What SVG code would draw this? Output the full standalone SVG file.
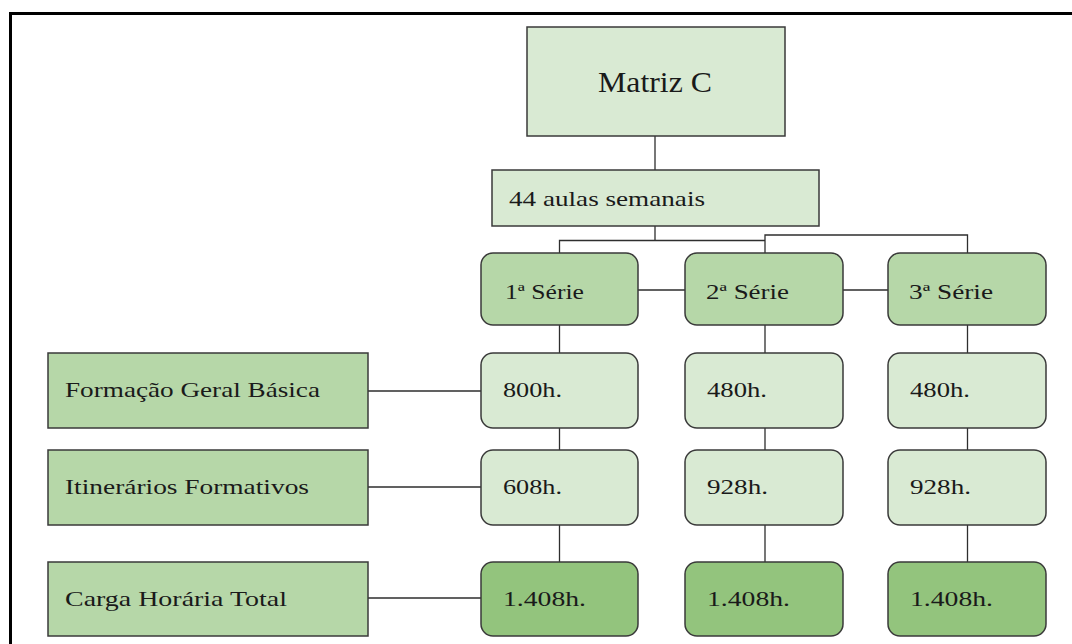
<svg xmlns="http://www.w3.org/2000/svg" width="1072" height="644" viewBox="0 0 1072 644">
  <style>
    .box { stroke: #3a3a3a; stroke-width: 1.5; }
    .pale { fill: #d9ead3; }
    .mid { fill: #b6d7a8; }
    .dark { fill: #93c47d; }
    .lbl { font-family: "Liberation Serif", "Times New Roman", serif; font-size: 21px; fill: #1a1a1a; }
    .big { font-size: 29px; }
    .wire { stroke: #2e2e2e; stroke-width: 1.3; fill: none; }
  </style>

  <rect x="0" y="0" width="1072" height="644" fill="#ffffff"/>
  <!-- frame -->
  <path d="M10.5 644 V13.5 H1072" fill="none" stroke="#000" stroke-width="3"/>

  <g id="connectors">
    <path class="wire" d="M655 136 V170"/>
    <path class="wire" d="M655 226 V240.5 M559.5 253 V240.5 H765"/>
    <path class="wire" d="M765 253 V235 H967.5 V253"/>
    <path class="wire" d="M638 290 H685 M843 290 H888"/>
    <path class="wire" d="M559.5 325 V353 M765 325 V353 M967.5 325 V353"/>
    <path class="wire" d="M559.5 426 V450 M765 420 V450 M967.5 424 V450"/>
    <path class="wire" d="M559.5 525 V562 M765 525 V562 M967.5 525 V562"/>
    <path class="wire" d="M368 391 H481 M368 487 H481 M368 598 H481"/>
  </g>

  <g id="matriz">
    <rect class="box pale" x="527" y="27" width="258" height="109"/>
    <text class="lbl big" x="598" y="92" textLength="114" lengthAdjust="spacingAndGlyphs">Matriz C</text>
  </g>
  <g id="aulas">
    <rect class="box pale" x="492" y="170" width="327" height="56"/>
    <text class="lbl" x="509" y="206" textLength="196" lengthAdjust="spacingAndGlyphs">44 aulas semanais</text>
  </g>

  <g id="serie1">
    <rect class="box mid" x="481" y="253" width="157" height="72" rx="12"/>
    <text class="lbl" x="505" y="299" textLength="79" lengthAdjust="spacingAndGlyphs">1ª Série</text>
  </g>
  <g id="serie2">
    <rect class="box mid" x="685" y="253" width="158" height="72" rx="12"/>
    <text class="lbl" x="706" y="299" textLength="83" lengthAdjust="spacingAndGlyphs">2ª Série</text>
  </g>
  <g id="serie3">
    <rect class="box mid" x="888" y="253" width="158" height="72" rx="12"/>
    <text class="lbl" x="909" y="299" textLength="84" lengthAdjust="spacingAndGlyphs">3ª Série</text>
  </g>

  <g id="fgb">
    <rect class="box mid" x="48" y="353" width="320" height="75"/>
    <text class="lbl" x="65" y="397" textLength="255" lengthAdjust="spacingAndGlyphs">Formação Geral Básica</text>
  </g>
  <g id="itf">
    <rect class="box mid" x="48" y="450" width="320" height="75"/>
    <text class="lbl" x="65" y="494" textLength="244" lengthAdjust="spacingAndGlyphs">Itinerários Formativos</text>
  </g>
  <g id="cht">
    <rect class="box mid" x="48" y="562" width="320" height="74"/>
    <text class="lbl" x="65" y="606" textLength="222" lengthAdjust="spacingAndGlyphs">Carga Horária Total</text>
  </g>

  <g id="fgb1">
    <rect class="box pale" x="481" y="353" width="157" height="75" rx="12"/>
    <text class="lbl" x="503" y="397" textLength="59" lengthAdjust="spacingAndGlyphs">800h.</text>
  </g>
  <g id="fgb2">
    <rect class="box pale" x="685" y="353" width="158" height="75" rx="12"/>
    <text class="lbl" x="707" y="397" textLength="60" lengthAdjust="spacingAndGlyphs">480h.</text>
  </g>
  <g id="fgb3">
    <rect class="box pale" x="888" y="353" width="158" height="75" rx="12"/>
    <text class="lbl" x="910" y="397" textLength="60" lengthAdjust="spacingAndGlyphs">480h.</text>
  </g>

  <g id="itf1">
    <rect class="box pale" x="481" y="450" width="157" height="75" rx="12"/>
    <text class="lbl" x="503" y="494" textLength="59" lengthAdjust="spacingAndGlyphs">608h.</text>
  </g>
  <g id="itf2">
    <rect class="box pale" x="685" y="450" width="158" height="75" rx="12"/>
    <text class="lbl" x="707" y="494" textLength="61" lengthAdjust="spacingAndGlyphs">928h.</text>
  </g>
  <g id="itf3">
    <rect class="box pale" x="888" y="450" width="158" height="75" rx="12"/>
    <text class="lbl" x="910" y="494" textLength="61" lengthAdjust="spacingAndGlyphs">928h.</text>
  </g>

  <g id="cht1">
    <rect class="box dark" x="481" y="562" width="157" height="74" rx="12"/>
    <text class="lbl" x="503" y="606" textLength="83" lengthAdjust="spacingAndGlyphs">1.408h.</text>
  </g>
  <g id="cht2">
    <rect class="box dark" x="685" y="562" width="158" height="74" rx="12"/>
    <text class="lbl" x="707" y="606" textLength="83" lengthAdjust="spacingAndGlyphs">1.408h.</text>
  </g>
  <g id="cht3">
    <rect class="box dark" x="888" y="562" width="158" height="74" rx="12"/>
    <text class="lbl" x="910" y="606" textLength="83" lengthAdjust="spacingAndGlyphs">1.408h.</text>
  </g>
</svg>
